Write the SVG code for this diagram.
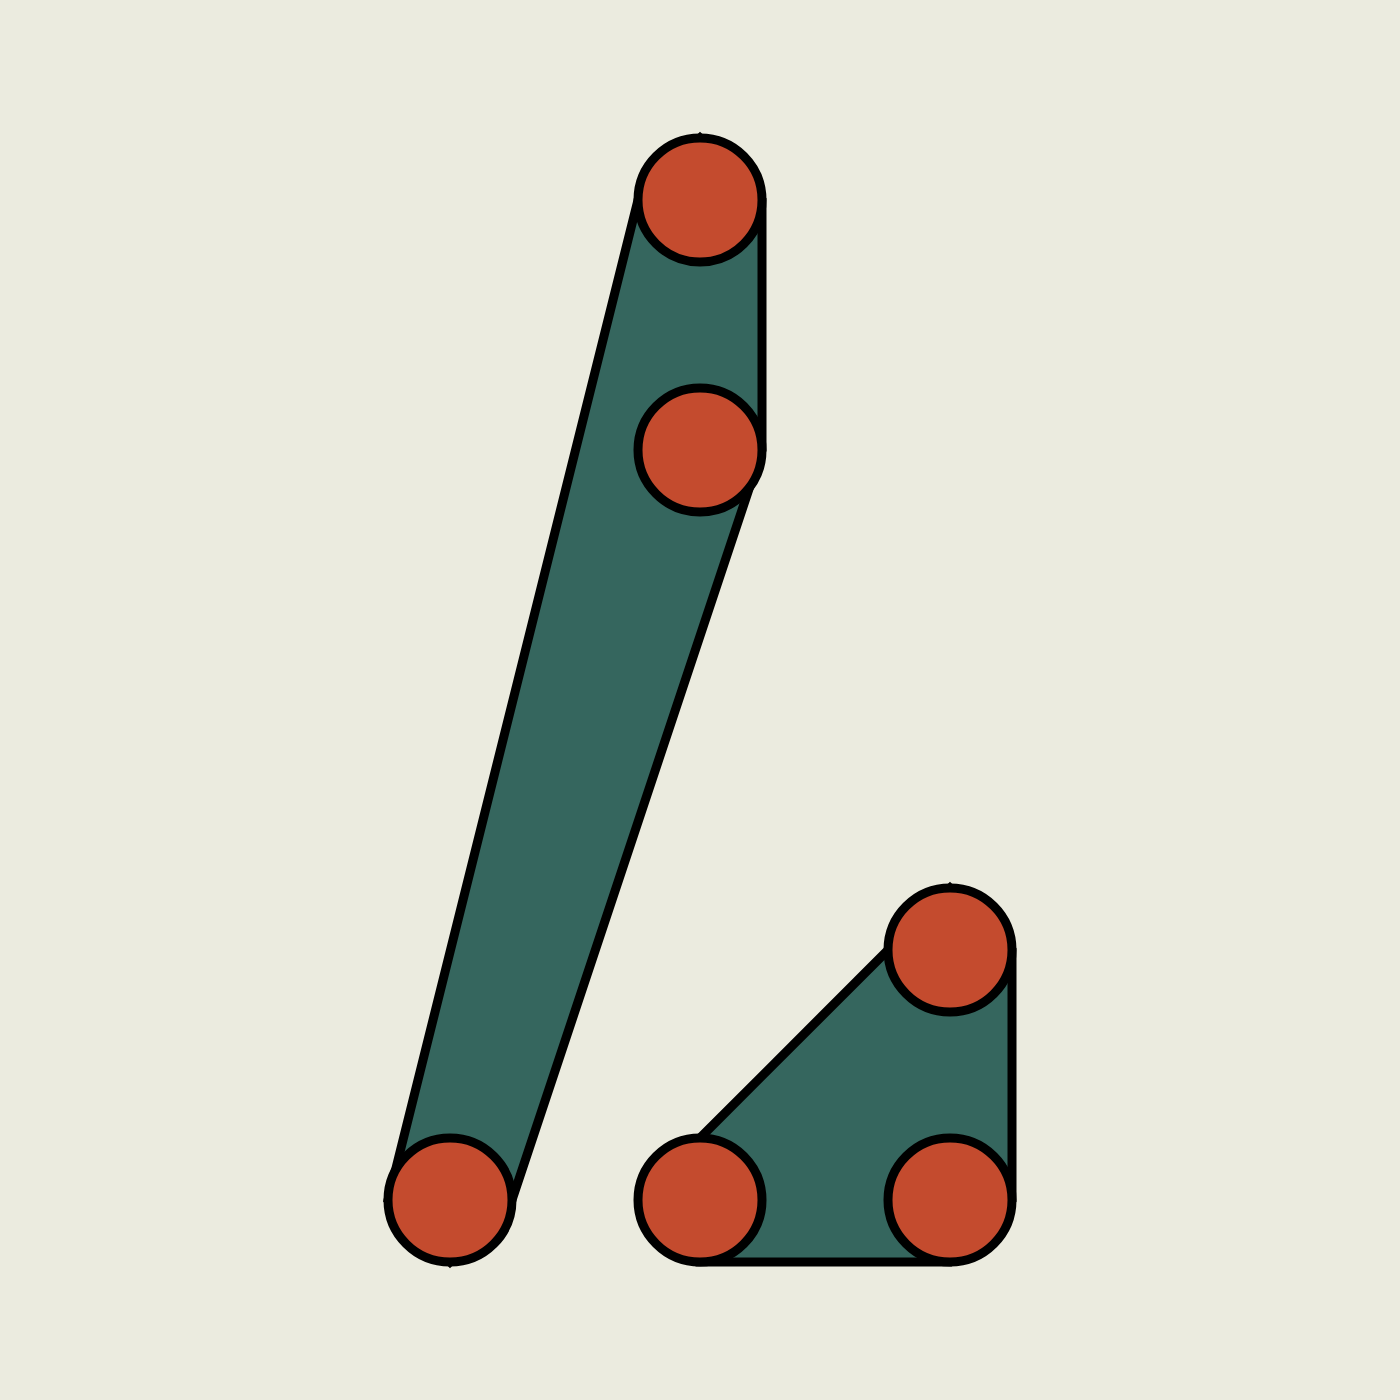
<svg xmlns="http://www.w3.org/2000/svg" width="1400" height="1400" viewBox="0 0 1400 1400">
<style>
.h{fill:#35665E;stroke:#000;stroke-width:9}
.n{fill:#C44B2E;stroke:#000;stroke-width:9}
</style>
<rect width="1400" height="1400" fill="#EBEBDF"/>
<g id="connectors">
<polygon class="h" points="700,138 762,200 762,450 512,1200 450,1262 388,1200 638,200"/>
<polygon class="h" points="700,1138 888,950 950,888 1012,950 1012,1200 950,1262 700,1262"/>
</g>
<g id="n1"><circle class="n" cx="700" cy="200" r="62"/></g>
<g id="n2"><circle class="n" cx="700" cy="450" r="62"/></g>
<g id="n3"><circle class="n" cx="450" cy="1200" r="62"/></g>
<g id="n4"><circle class="n" cx="700" cy="1200" r="62"/></g>
<g id="n5"><circle class="n" cx="950" cy="950" r="62"/></g>
<g id="n6"><circle class="n" cx="950" cy="1200" r="62"/></g>
</svg>
